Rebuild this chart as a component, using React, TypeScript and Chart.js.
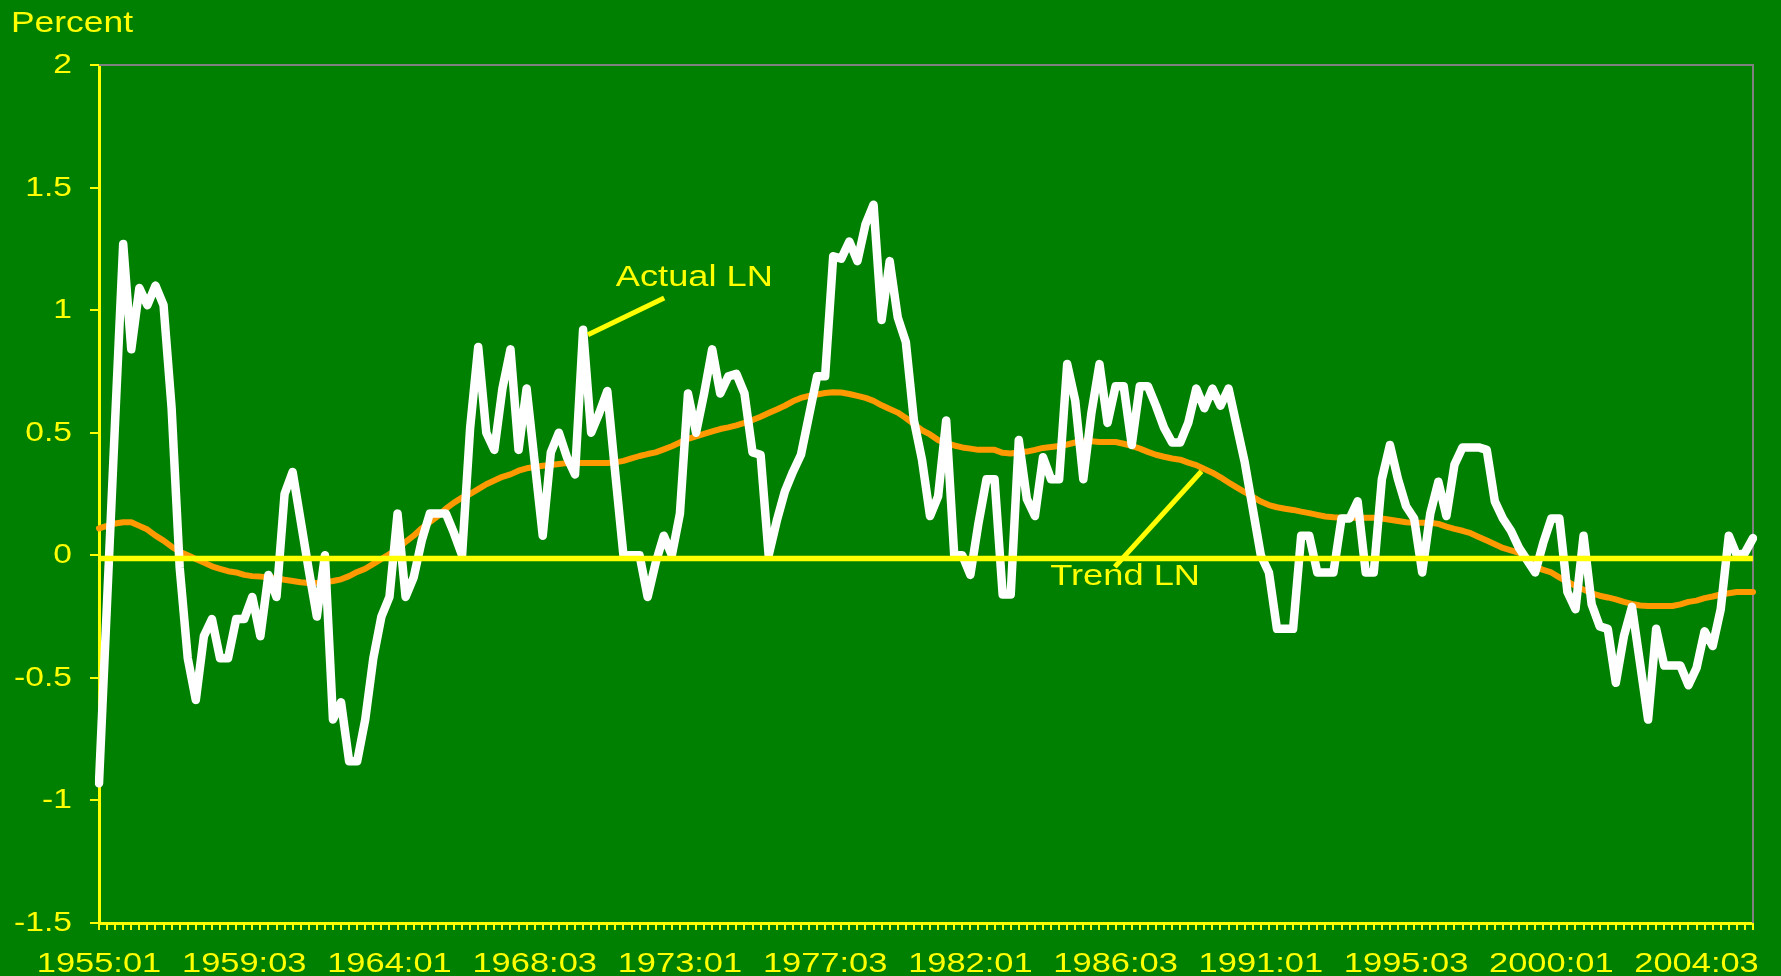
import React, { useEffect, useRef } from 'react';
import { Chart, registerables } from 'chart.js';

Chart.register(...registerables);

// ---- Data -----------------------------------------------------------------
const FIRST_YEAR = 1955;
const N_QUARTERS = 206;
const quarters: string[] = [];
for (let k = 0; k < N_QUARTERS; k++) {
  quarters.push(`${FIRST_YEAR + Math.floor(k / 4)}:0${(k % 4) + 1}`);
}

const xTickLabels = [
  '1955:01', '1959:03', '1964:01', '1968:03', '1973:01', '1977:03',
  '1982:01', '1986:03', '1991:01', '1995:03', '2000:01', '2004:03',
];

const yTickValues = [2, 1.5, 1, 0.5, 0, -0.5, -1, -1.5];
const yTickLabels = ['2', '1.5', '1', '0.5', '0', '-0.5', '-1', '-1.5'];

const actualLN = [
  -0.93, -0.19, 0.55, 1.27, 0.84, 1.09, 1.02, 1.10, 1.02, 0.60,
  -0.05, -0.42, -0.59, -0.33, -0.26, -0.42, -0.42, -0.26, -0.26, -0.17,
  -0.33, -0.08, -0.17, 0.25, 0.34, 0.14, -0.06, -0.25, 0.0, -0.67,
  -0.60, -0.84, -0.84, -0.67, -0.42, -0.25, -0.17, 0.17, -0.17, -0.09,
  0.06, 0.17, 0.17, 0.17, 0.09, 0.0, 0.52, 0.85, 0.50, 0.43,
  0.68, 0.84, 0.43, 0.68, 0.38, 0.08, 0.42, 0.50, 0.40, 0.33,
  0.92, 0.50, 0.58, 0.67, 0.33, 0.0, 0.0, 0.0, -0.17, -0.03,
  0.08, 0.0, 0.17, 0.66, 0.50, 0.66, 0.84, 0.66, 0.73, 0.74,
  0.66, 0.42, 0.41, 0.0, 0.14, 0.26, 0.34, 0.41, 0.57, 0.73,
  0.73, 1.22, 1.21, 1.28, 1.20, 1.35, 1.43, 0.96, 1.20, 0.97,
  0.87, 0.55, 0.39, 0.16, 0.24, 0.55, 0.0, 0.0, -0.08, 0.13,
  0.31, 0.31, -0.16, -0.16, 0.47, 0.23, 0.16, 0.40, 0.31, 0.31,
  0.78, 0.63, 0.31, 0.58, 0.78, 0.54, 0.69, 0.69, 0.45, 0.69,
  0.69, 0.61, 0.52, 0.46, 0.46, 0.54, 0.68, 0.60, 0.68, 0.61,
  0.68, 0.53, 0.38, 0.19, 0.0, -0.07, -0.30, -0.30, -0.30, 0.08,
  0.08, -0.07, -0.07, -0.07, 0.15, 0.15, 0.22, -0.07, -0.07, 0.31,
  0.45, 0.31, 0.20, 0.15, -0.07, 0.17, 0.30, 0.16, 0.37, 0.44,
  0.44, 0.44, 0.43, 0.22, 0.15, 0.10, 0.03, -0.02, -0.07, 0.05,
  0.15, 0.15, -0.15, -0.22, 0.08, -0.20, -0.29, -0.30, -0.52, -0.33,
  -0.21, -0.44, -0.67, -0.30, -0.45, -0.45, -0.45, -0.53, -0.46, -0.31,
  -0.37, -0.22, 0.08, 0.0, 0.01, 0.07,
];

const trendLN = [
  0.11, 0.12, 0.13, 0.135, 0.135, 0.12, 0.105, 0.08, 0.06, 0.035,
  0.015, 0.0, -0.015, -0.03, -0.045, -0.055, -0.065, -0.07, -0.08, -0.085,
  -0.087, -0.09, -0.094, -0.10, -0.105, -0.11, -0.113, -0.113, -0.11, -0.105,
  -0.098, -0.085, -0.068, -0.055, -0.035, -0.015, 0.005, 0.025, 0.055, 0.08,
  0.11, 0.135, 0.16, 0.19, 0.215, 0.235, 0.25, 0.27, 0.29, 0.305,
  0.32, 0.33, 0.345, 0.355, 0.36, 0.365, 0.368, 0.372, 0.376, 0.376,
  0.376, 0.376, 0.376, 0.376, 0.379, 0.385, 0.395, 0.405, 0.413, 0.42,
  0.432, 0.445, 0.46, 0.475, 0.485, 0.495, 0.505, 0.515, 0.522, 0.53,
  0.54, 0.552, 0.565, 0.58, 0.595, 0.61, 0.628, 0.642, 0.65, 0.656,
  0.662, 0.665, 0.664, 0.658, 0.65, 0.642, 0.63, 0.612, 0.597, 0.582,
  0.56, 0.535, 0.51, 0.493, 0.47, 0.458, 0.448, 0.44, 0.435, 0.43,
  0.43, 0.43, 0.418, 0.415, 0.42, 0.423, 0.43, 0.438, 0.442, 0.446,
  0.452, 0.46, 0.465, 0.465, 0.462, 0.462, 0.462, 0.455, 0.446, 0.435,
  0.422, 0.41, 0.402, 0.395, 0.39, 0.378, 0.368, 0.352, 0.337, 0.318,
  0.297, 0.277, 0.258, 0.238, 0.219, 0.205, 0.196, 0.19, 0.185, 0.178,
  0.172, 0.165, 0.158, 0.155, 0.153, 0.153, 0.153, 0.153, 0.153, 0.15,
  0.145, 0.14, 0.135, 0.133, 0.133, 0.133, 0.128, 0.117, 0.108, 0.10,
  0.09, 0.075, 0.06, 0.045, 0.03, 0.02, 0.01, -0.015, -0.045, -0.06,
  -0.07, -0.09, -0.108, -0.125, -0.14, -0.155, -0.165, -0.172, -0.18, -0.19,
  -0.198, -0.205, -0.207, -0.207, -0.207, -0.207, -0.2, -0.19, -0.185, -0.175,
  -0.168, -0.16, -0.155, -0.15, -0.15, -0.15,
];

// the yellow horizontal reference line sits a hair below zero in the original
const REF_LINE_LEVEL = -0.013;
const refLine = quarters.map(() => REF_LINE_LEVEL);

// annotations (category index, value)
const actualLabel = { text: 'Actual LN', at: [64.05, 1.10], from: [60.6, 0.90], to: [70.05, 1.05] };
const trendLabel = { text: 'Trend LN', at: [117.9, -0.122], from: [125.9, -0.047], to: [136.65, 0.343] };

// ---- Styles ---------------------------------------------------------------
const GREEN = '#008000';
const YELLOW = '#FFFF00';
const ORANGE = '#FF9900';
const WHITE = '#FFFFFF';
const GRAY = '#808080';
const FONT = '"Liberation Sans", Arial, Helvetica, sans-serif';

function stretchText(ctx: CanvasRenderingContext2D, text: string, x: number, y: number, sx: number, align: CanvasTextAlign) {
  ctx.save();
  ctx.translate(x, y);
  ctx.scale(sx, 1);
  ctx.textAlign = align;
  ctx.textBaseline = 'alphabetic';
  ctx.fillText(text, 0, 0);
  ctx.restore();
}

const decor = {
  id: 'decor',
  beforeDraw(chart: any) {
    const { ctx, width, height } = chart;
    ctx.save();
    ctx.fillStyle = GREEN;
    ctx.fillRect(0, 0, width, height);
    ctx.restore();
  },
  beforeDatasetsDraw(chart: any) {
    const { ctx, chartArea } = chart;
    ctx.save();
    ctx.strokeStyle = GRAY;
    ctx.lineWidth = 2;
    ctx.beginPath();
    ctx.moveTo(chartArea.left, chartArea.top);
    ctx.lineTo(chartArea.right, chartArea.top);
    ctx.lineTo(chartArea.right, chartArea.bottom);
    ctx.stroke();
    ctx.restore();
  },
  afterDatasetsDraw(chart: any) {
    const { ctx } = chart;
    const xS = chart.scales.x;
    const yS = chart.scales.y;
    const px = (p: number[]) => [xS.getPixelForValue(p[0]), yS.getPixelForValue(p[1])];
    ctx.save();
    ctx.strokeStyle = YELLOW;
    ctx.lineWidth = 5;
    for (const a of [actualLabel, trendLabel]) {
      const f = px(a.from);
      const t = px(a.to);
      ctx.beginPath();
      ctx.moveTo(f[0], f[1]);
      ctx.lineTo(t[0], t[1]);
      ctx.stroke();
    }
    ctx.fillStyle = YELLOW;
    ctx.font = `29px ${FONT}`;
    for (const a of [actualLabel, trendLabel]) {
      const p = px(a.at);
      stretchText(ctx, a.text, p[0], p[1], 1.25, 'left');
    }
    ctx.restore();
  },
  afterDraw(chart: any) {
    const { ctx } = chart;
    const xS = chart.scales.x;
    const yS = chart.scales.y;
    ctx.save();
    ctx.fillStyle = YELLOW;
    ctx.font = `28px ${FONT}`;
    yTickValues.forEach((v, k) => {
      stretchText(ctx, yTickLabels[k], 72, yS.getPixelForValue(v) + 8, 1.2, 'right');
    });
    xTickLabels.forEach((lab) => {
      const idx = quarters.indexOf(lab);
      if (idx < 0) return;
      stretchText(ctx, lab, xS.getPixelForValue(idx), 971.5, 1.23, 'center');
    });
    ctx.font = `30px ${FONT}`;
    stretchText(ctx, 'Percent', 11, 32, 1.18, 'left');
    ctx.restore();
  },
};

export default function App() {
  const ref = useRef<HTMLCanvasElement | null>(null);

  useEffect(() => {
    document.body.style.margin = '0';
    document.body.style.background = GREEN;
    const canvas = ref.current;
    if (!canvas) return;
    const chart = new Chart(canvas, {
      type: 'line',
      data: {
        labels: quarters,
        datasets: [
          {
            label: 'zero',
            data: refLine,
            borderColor: YELLOW,
            borderWidth: 5.5,
            pointRadius: 0,
            fill: false,
          },
          {
            label: 'Actual LN',
            data: actualLN,
            borderColor: WHITE,
            borderWidth: 8.5,
            pointRadius: 0,
            borderJoinStyle: 'round',
            borderCapStyle: 'round',
            tension: 0,
            fill: false,
          },
          {
            label: 'Trend LN',
            data: trendLN,
            borderColor: ORANGE,
            borderWidth: 6,
            pointRadius: 0,
            borderJoinStyle: 'round',
            borderCapStyle: 'round',
            tension: 0,
            fill: false,
          },
        ],
      },
      options: {
        responsive: false,
        devicePixelRatio: 1,
        animation: false,
        layout: { padding: { top: 65, right: 28, left: 0, bottom: 0 } },
        plugins: { legend: { display: false }, tooltip: { enabled: false } },
        scales: {
          x: {
            type: 'category',
            offset: false,
            ticks: { display: false, autoSkip: false },
            grid: { drawOnChartArea: false, drawTicks: true, tickLength: 7, color: YELLOW, lineWidth: 2 },
            border: { display: true, color: YELLOW, width: 3 },
            afterFit: (s: any) => { s.height = 53; },
          },
          y: {
            type: 'linear',
            min: -1.5,
            max: 2,
            ticks: { display: false, stepSize: 0.5 },
            grid: { drawOnChartArea: false, drawTicks: true, tickLength: 9, color: YELLOW, lineWidth: 2 },
            border: { display: true, color: YELLOW, width: 3 },
            afterFit: (s: any) => { s.width = 99; },
          },
        },
      },
      plugins: [decor],
    } as any);
    return () => chart.destroy();
  }, []);

  return (
    <div style={{ width: 1781, height: 976, background: GREEN }}>
      <canvas ref={ref} width={1781} height={976} style={{ display: 'block' }} />
    </div>
  );
}
